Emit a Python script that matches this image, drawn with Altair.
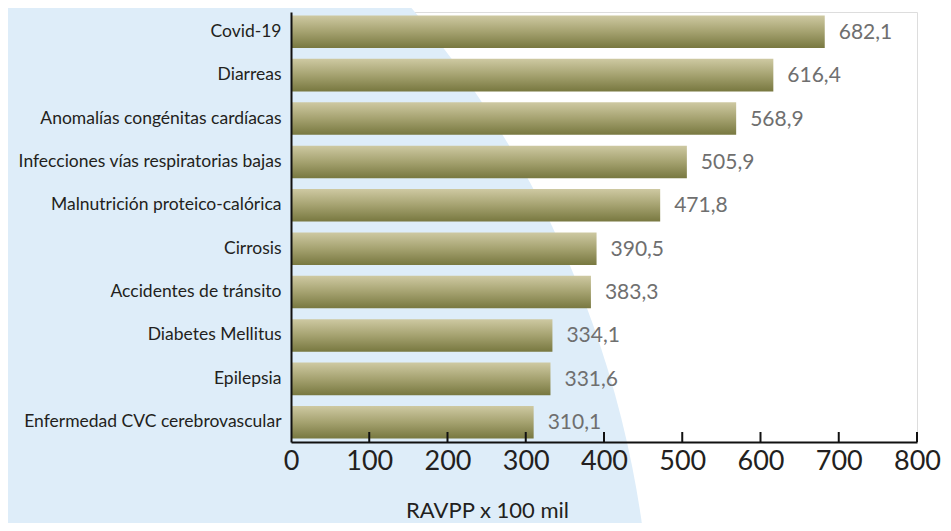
import altair as alt
import pandas as pd
import math

causes = [
    "Covid-19",
    "Diarreas",
    "Anomalías congénitas cardíacas",
    "Infecciones vías respiratorias bajas",
    "Malnutrición proteico-calórica",
    "Cirrosis",
    "Accidentes de tránsito",
    "Diabetes Mellitus",
    "Epilepsia",
    "Enfermedad CVC cerebrovascular",
]
values = [682.1, 616.4, 568.9, 505.9, 471.8, 390.5, 383.3, 334.1, 331.6, 310.1]
tick_values = [100, 200, 300, 400, 500, 600, 700, 800]

FONT = "Lato"
W, H = 626, 430

df = pd.DataFrame({
    "cause": causes,
    "value": values,
    "label": [f"{v:.1f}".replace(".", ",") for v in values],
})
ticks_df = pd.DataFrame({"t": tick_values})
bg_df = pd.DataFrame({"k": [0]})

# decorative light-blue background disc
bg = alt.Chart(bg_df).mark_arc(
    theta=0, theta2=2 * math.pi, outerRadius=1023, innerRadius=0,
    color="#deedf9", strokeWidth=0,
).encode(x=alt.value(-662), y=alt.value(655))

yenc = alt.Y(
    "cause:N", sort=causes, title=None,
    scale=alt.Scale(paddingInner=0.25, paddingOuter=0.08),
    axis=alt.Axis(
        labelFont=FONT, labelFontSize=17.5, labelColor="#231f20",
        ticks=False, labelPadding=10, domainColor="#111111", domainWidth=2,
        zindex=1, labelLimit=400,
    ),
)
xenc = alt.X(
    "value:Q", title="RAVPP x 100 mil",
    scale=alt.Scale(domain=[0, 800], nice=False),
    axis=alt.Axis(
        values=[0] + tick_values, grid=False, ticks=False,
        labelFont=FONT, labelFontSize=27, labelColor="#231f20",
        labelPadding=6, domainColor="#111111", domainWidth=2,
        titleFont=FONT, titleFontSize=22, titleFontWeight="normal",
        titleColor="#231f20", titleX=196, titleY=75, titleAlign="center",
        titleBaseline="alphabetic", zindex=1, labelFlush=False,
    ),
)

grad = alt.Gradient(
    gradient="linear",
    stops=[alt.GradientStop(color="#cec9a2", offset=0),
           alt.GradientStop(color="#a5a270", offset=0.5),
           alt.GradientStop(color="#787840", offset=1)],
    x1=0, x2=0, y1=0, y2=1,
)

bars = alt.Chart(df).mark_bar(fill=grad).encode(y=yenc, x=xenc)

text = alt.Chart(df).mark_text(
    align="left", baseline="middle", dx=14, dy=1, font=FONT, fontSize=21,
    color="#6f6f6f",
).encode(y=alt.Y("cause:N", sort=causes), x="value:Q", text="label:N")

tick_marks = alt.Chart(ticks_df).mark_rule(color="#111111", strokeWidth=2).encode(
    x=alt.X("t:Q"), y=alt.value(H - 10), y2=alt.value(H)
)

chart = alt.layer(bg, bars, text, tick_marks).properties(
    width=W, height=H,
    autosize=alt.AutoSizeParams(type="none"),
    padding={"left": 283, "top": 4, "right": 26, "bottom": 81},
).configure_view(stroke=None).configure(background="white")

chart.save("out.html", embed_options={"renderer": "svg", "actions": False})
